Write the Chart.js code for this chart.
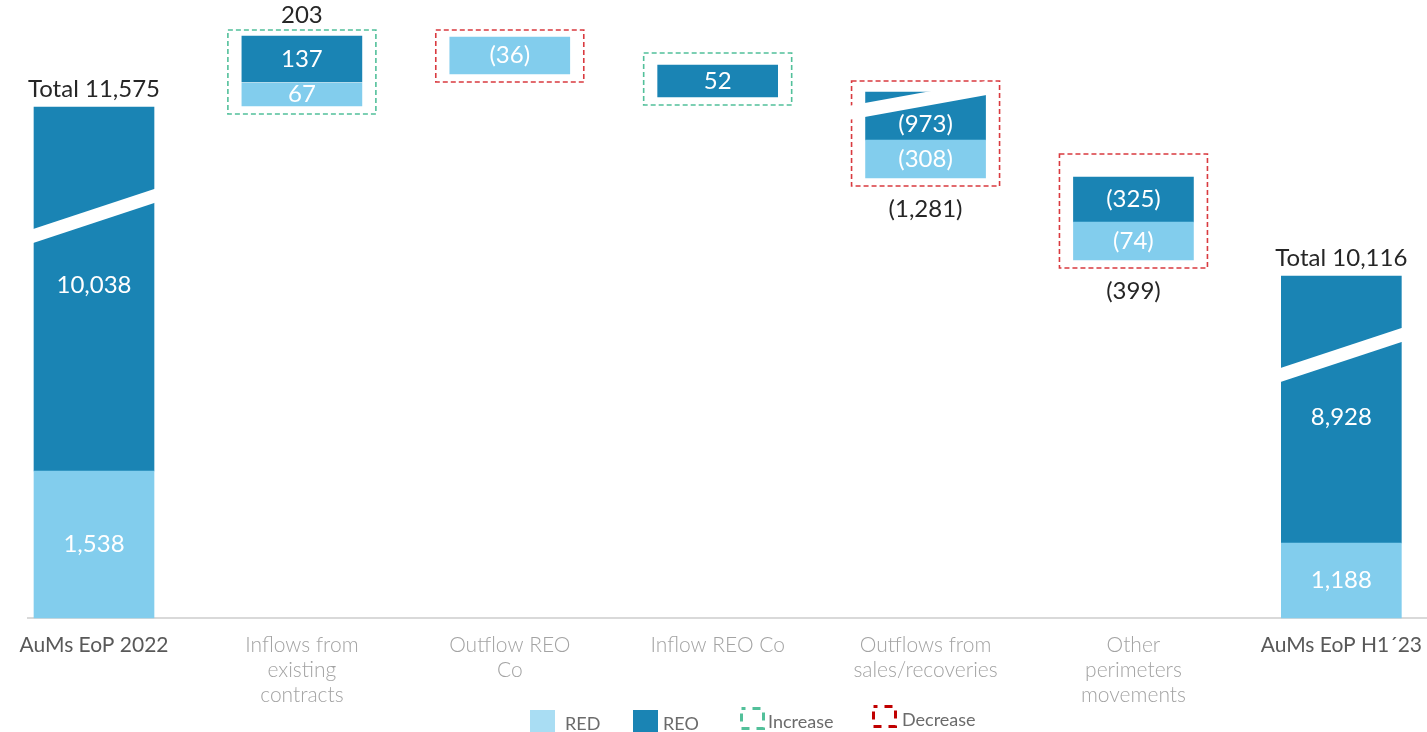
<!DOCTYPE html>
<html>
<head>
<meta charset="utf-8">
<script src="https://cdn.jsdelivr.net/npm/chart.js@4.4.0/dist/chart.umd.min.js"></script>
<style>
  html, body { margin: 0; padding: 0; background: #fff; }
</style>
</head>
<body>
<canvas id="aumChart" width="1427" height="732"></canvas>
<script>
const categories = [
  'AuMs EoP 2022',
  ['Inflows from', 'existing', 'contracts'],
  ['Outflow REO', 'Co'],
  'Inflow REO Co',
  ['Outflows from', 'sales/recoveries'],
  ['Other', 'perimeters', 'movements'],
  'AuMs EoP H1´23'
];

// values printed on the chart
const redValues = [1538, 67, -36, null, -308, -74, 1188];
const reoValues = [10038, 137, null, 52, -973, -325, 8928];
const stepTotals = [11575, 203, null, null, -1281, -399, 10116];
const changeType = [null, 'increase', 'decrease', 'increase', 'decrease', 'decrease', null];

// the axis is broken and not to scale, so the drawn extent of each
// segment is read off the picture separately
const redDrawn = [[0, 147], [512, 535], [544, 581], null, [440, 478], [358, 396], [0, 75]];
const reoDrawn = [[147, 511], [536, 582], null, [521, 553], [478, 526], [396, 441], [75, 342]];

const legendItems = ['RED', 'REO', 'Increase', 'Decrease'];

const RED = '#82CDED';
const REO = '#1A84B4';
const UP = '#52C09A';
const DOWN = '#D93A3F';

function fmt(v) {
  const s = Math.abs(v).toLocaleString('en-US');
  return v < 0 ? '(' + s + ')' : s;
}

const overlay = {
  id: 'overlay',
  beforeDatasetsDraw(chart) {
    const { ctx, scales: { y } } = chart;
    const yb = y.getPixelForValue(0);
    ctx.save();
    ctx.strokeStyle = '#D9D9D9';
    ctx.lineWidth = 2;
    ctx.beginPath();
    ctx.moveTo(27, yb);
    ctx.lineTo(chart.width, yb);
    ctx.stroke();
    ctx.restore();
  },
  afterDatasetsDraw(chart, args, opts) {
    const { ctx, scales: { y } } = chart;
    const metas = [chart.getDatasetMeta(0), chart.getDatasetMeta(1)];
    const drawn = [redDrawn, reoDrawn];
    const values = [redValues, reoValues];

    // outer bounds of the stack at index i
    const bounds = i => {
      let top = Infinity, bottom = -Infinity, left = 0, right = 0;
      metas.forEach((m, d) => {
        if (!drawn[d][i]) return;
        const el = m.data[i];
        top = Math.min(top, el.y, el.base);
        bottom = Math.max(bottom, el.y, el.base);
        left = el.x - el.width / 2;
        right = el.x + el.width / 2;
      });
      return { top, bottom, left, right, x: (left + right) / 2 };
    };

    ctx.save();

    // dashed increase / decrease frames
    changeType.forEach((t, i) => {
      if (!t) return;
      const b = bounds(i);
      const padTop = opts.frameTop[i];
      ctx.strokeStyle = t === 'increase' ? UP : DOWN;
      ctx.lineWidth = 1.6;
      ctx.setLineDash([5, 3]);
      ctx.strokeRect(b.left - 14, b.top - padTop, b.right - b.left + 28, b.bottom - b.top + padTop + 8);
    });
    ctx.setLineDash([]);

    // white break stripes
    opts.breaks.forEach(br => {
      const el = metas[1].data[br.index];
      const cy = y.getPixelForValue(br.value);
      const x0 = el.x - el.width / 2 - 16;
      const x1 = el.x + el.width / 2 + 1;
      const h = 7;
      ctx.fillStyle = '#FFFFFF';
      ctx.beginPath();
      ctx.moveTo(x0, cy + br.slope * (el.x - x0) - h);
      ctx.lineTo(x1, cy - br.slope * (x1 - el.x) - h);
      ctx.lineTo(x1, cy - br.slope * (x1 - el.x) + h);
      ctx.lineTo(x0, cy + br.slope * (el.x - x0) + h);
      ctx.closePath();
      ctx.fill();
    });

    // values inside the segments
    ctx.font = '24px Lato';
    ctx.fillStyle = '#FFFFFF';
    ctx.textAlign = 'center';
    ctx.textBaseline = 'middle';
    metas.forEach((m, d) => {
      values[d].forEach((v, i) => {
        if (v === null) return;
        const el = m.data[i];
        const shift = d === 1 ? opts.reoShift[i] : 0;
        ctx.fillText(fmt(v), el.x, (el.y + el.base) / 2 + shift);
      });
    });

    // totals and net changes
    ctx.fillStyle = '#262626';
    stepTotals.forEach((v, i) => {
      if (v === null) return;
      const b = bounds(i);
      const isTotal = !changeType[i];
      const text = isTotal ? 'Total ' + fmt(v) : fmt(v);
      let ty;
      if (v >= 0) ty = b.top - (isTotal ? 18 : opts.frameTop[i] + 15);
      else ty = b.bottom + 8 + 23;
      ctx.fillText(text, b.x, ty);
    });

    // legend under the category labels
    const lg = opts.legend;
    ctx.font = '18px Lato';
    ctx.textAlign = 'left';
    legendItems.forEach((name, k) => {
      const bx = lg.x[k];
      if (k < 2) {
        ctx.fillStyle = k === 0 ? '#A9DDF3' : REO;
        ctx.fillRect(bx, lg.top, 25, 22);
      } else {
        ctx.strokeStyle = k === 2 ? UP : '#C00000';
        ctx.lineWidth = 3;
        ctx.setLineDash([8, 7]);
        ctx.lineDashOffset = 4;
        ctx.strokeRect(bx + 1.5, lg.top - 1.5 - (k - 2) * 2, 22, 20);
        ctx.setLineDash([]);
      }
      ctx.fillStyle = '#6B6B6B';
      ctx.fillText(name, bx + lg.gap[k], lg.top + 12 - (k < 2 ? -2 : (k - 2) * 2));
    });

    ctx.restore();
  }
};

new Chart(document.getElementById('aumChart'), {
  type: 'bar',
  data: {
    labels: categories,
    datasets: [
      { label: 'RED', data: redDrawn, backgroundColor: RED, barThickness: 120, borderWidth: 0, clip: false },
      { label: 'REO', data: reoDrawn, backgroundColor: REO, barThickness: 120, borderWidth: 0, clip: false }
    ]
  },
  options: {
    responsive: false,
    animation: false,
    devicePixelRatio: 1,
    layout: { padding: { left: 94, right: 85, top: 0, bottom: 19 } },
    scales: {
      x: {
        stacked: true,
        offset: false,
        grid: { display: false, drawTicks: true, tickLength: 10 },
        border: { display: false },
        ticks: {
          padding: 5,
          maxRotation: 0,
          autoSkip: false,
          color: c => (c.index === 0 || c.index === 6) ? '#595959' : '#A3A3A3',
          font: c => ({
            family: 'Lato',
            size: 21,
            lineHeight: 25 / 21,
            weight: (c.index === 0 || c.index === 6) ? 'normal' : '300'
          })
        }
      },
      y: { display: false, min: 0, max: 618 }
    },
    plugins: {
      tooltip: { enabled: false },
      legend: { display: false },
      overlay: {
        frameTop: [0, 6, 7, 12, 11, 23, 0],
        reoShift: [-4, 0, 0, 0, 8, 0, 8],
        breaks: [
          { index: 0, value: 402, slope: 0.33 },
          { index: 4, value: 519, slope: 0.18 },
          { index: 6, value: 263, slope: 0.33 }
        ],
        legend: { top: 710, x: [530, 633, 740, 872], gap: [35, 30, 28, 30] }
      }
    }
  },
  plugins: [overlay]
});
</script>
</body>
</html>
